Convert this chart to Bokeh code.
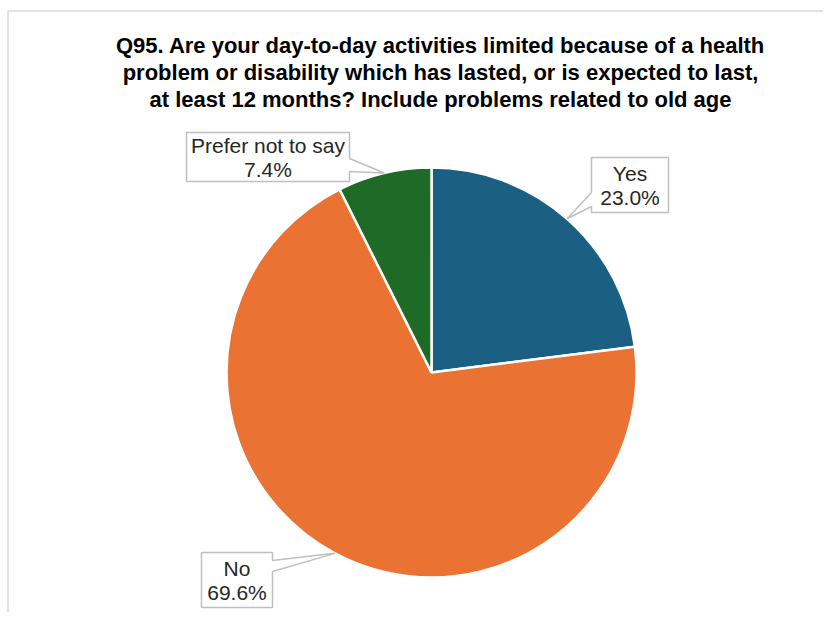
import math
from bokeh.plotting import figure
from bokeh.models import Range1d
from bokeh.core.properties import value
from bokeh.embed import file_html
from bokeh.resources import INLINE

# ---- data ----
categories = ["Yes", "No", "Prefer not to say"]
percents = [23.0, 69.6, 7.4]
colors = ["#1B5F82", "#EA7233", "#1D6B27"]
title_lines = [
    "Q95. Are your day-to-day activities limited because of a health",
    "problem or disability which has lasted, or is expected to last,",
    "at least 12 months? Include problems related to old age",
]

# ---- layout (screen pixel coordinates; y is flipped to -y) ----
W, H = 823, 612
CX, CY, R = 431, 372, 205
FONT = "Liberation Sans"

p = figure(width=W, height=H, output_backend="svg", toolbar_location=None,
           x_range=Range1d(0, W), y_range=Range1d(-H, 0),
           min_border=0, x_axis_location=None, y_axis_location=None)
p.outline_line_color = None
p.grid.visible = False
p.background_fill_color = "white"

# chart border (only left and top visible)
p.line([7.5, 7.5, 845], [-640, -10.5, -10.5], line_color="#D9D9D9", line_width=1.5)

# pie wedges, clockwise from 12 o'clock
total = sum(percents)
starts, ends, mids = [], [], []
cum = 0.0
for v in percents:
    a0 = math.pi / 2 - 2 * math.pi * cum / total
    cum += v
    a1 = math.pi / 2 - 2 * math.pi * cum / total
    starts.append(a0)
    ends.append(a1)
    mids.append((a0 + a1) / 2)

p.wedge(x=[CX] * 3, y=[-CY] * 3, radius=R, radius_units="screen",
        start_angle=starts, end_angle=ends, direction="clock",
        fill_color=colors, line_color="white", line_width=2.5)

# callout boxes: (x0, y0, x1, y1, side, base_a, base_b)
boxes = [
    (591, 157, 668, 212, "left", 192, 206),
    (201, 552, 272, 607, "right", 560, 571),
    (186, 132, 349, 181, "right", 158, 171),
]
for i, (x0, y0, x1, y1, side, ba, bb) in enumerate(boxes):
    tx = CX + R * math.cos(mids[i])
    ty = CY - R * math.sin(mids[i])
    if side == "left":
        pts = [(x0, y0), (x1, y0), (x1, y1), (x0, y1), (x0, bb), (tx, ty), (x0, ba)]
    else:
        pts = [(x0, y0), (x1, y0), (x1, ba), (tx, ty), (x1, bb), (x1, y1), (x0, y1)]
    p.patch([q[0] for q in pts], [-q[1] for q in pts], fill_color="white",
            line_color="#BFBFBF", line_width=1.5)
    cxb = (x0 + x1) / 2
    cyb = (y0 + y1) / 2
    p.text(x=[cxb, cxb], y=[-(cyb - 12), -(cyb + 12)],
           text=[categories[i], f"{percents[i]:.1f}%"],
           text_align="center", text_baseline="middle",
           text_font=value(FONT), text_font_size="21px", text_color="#262626")

# title
p.text(x=[440] * 3, y=[-45, -72, -99], text=title_lines,
       text_align="center", text_baseline="middle",
       text_font=value(FONT), text_font_style="bold", text_font_size="22px",
       text_color="#000000")

open("out.html", "w").write(file_html(p, INLINE))
